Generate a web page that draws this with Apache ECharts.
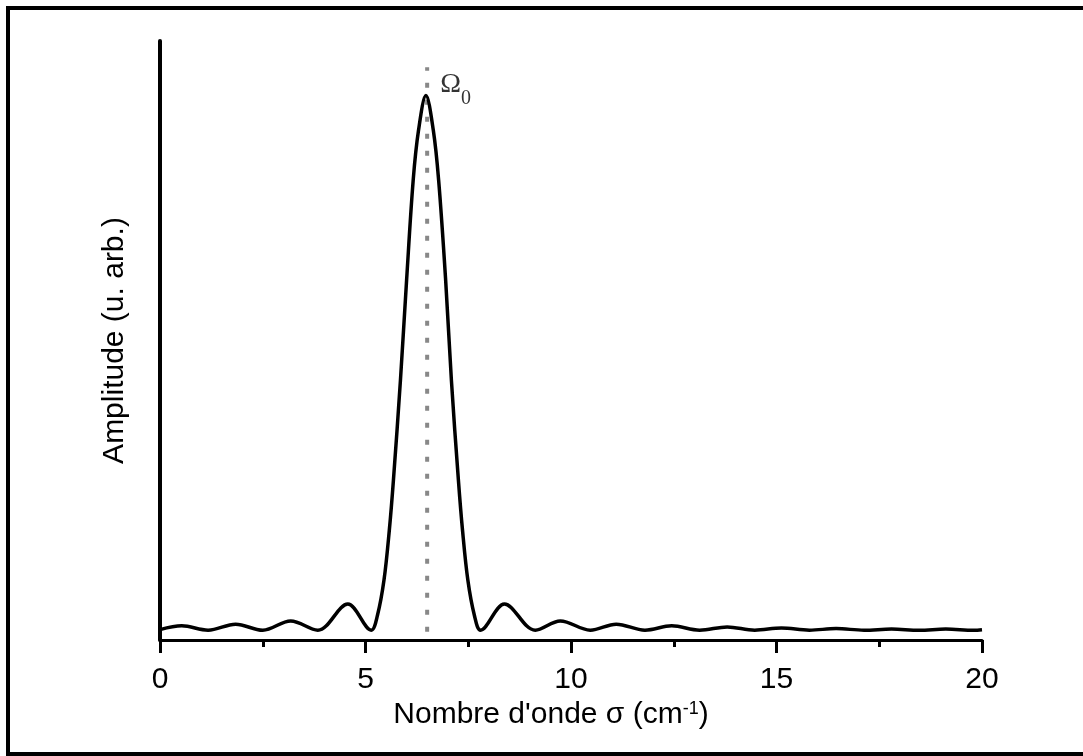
<!DOCTYPE html>
<html>
<head>
<meta charset="utf-8">
<script src="https://cdn.jsdelivr.net/npm/echarts@6/dist/echarts.min.js"></script>
<style>
  html, body { margin: 0; padding: 0; background: #fff; }
  #chart { width: 1083px; height: 756px; }
</style>
</head>
<body>
<div id="chart"></div>
<script>
// 波数 σ (cm-1)
const sigma = [0, 0.53, 1.17, 1.84, 2.50, 3.18, 3.84, 4.57, 5.14, 5.29, 5.45, 5.58, 5.68, 5.85, 6.00, 6.16, 6.29, 6.47,
  6.65, 6.78, 6.95, 7.09, 7.26, 7.36, 7.49, 7.65, 7.80, 8.38, 9.13, 9.74, 10.47, 11.10, 11.80, 12.45, 13.13, 13.80,
  14.47, 15.12, 15.80, 16.45, 17.13, 17.80, 18.47, 19.12, 19.80, 20];
// 振幅 (u. arb.)
const amplitude = [0.019, 0.026, 0.018, 0.029, 0.018, 0.035, 0.018, 0.066, 0.018, 0.045, 0.110, 0.202, 0.294, 0.477, 0.661, 0.844, 0.936, 1.0,
  0.936, 0.844, 0.661, 0.477, 0.294, 0.202, 0.110, 0.045, 0.018, 0.066, 0.018, 0.035, 0.018, 0.029, 0.018, 0.026, 0.018, 0.024,
  0.018, 0.022, 0.018, 0.021, 0.018, 0.020, 0.018, 0.020, 0.018, 0.019];
// Ω0 参考线
const omega0 = 6.5;
const omegaLine = [0.015, 1.052];
// x 轴刻度
const xTicks = [0, 5, 10, 15, 20];

const chart = echarts.init(document.getElementById('chart'));
const font = 'Liberation Sans, Arial, sans-serif';
const serif = 'Liberation Serif, Times New Roman, serif';

chart.setOption({
  animation: false,
  backgroundColor: '#fff',
  grid: { left: 160, right: 101, top: 41, bottom: 116 },
  xAxis: {
    type: 'value',
    min: xTicks[0],
    max: xTicks[xTicks.length - 1],
    interval: xTicks[1] - xTicks[0],
    axisLine: { lineStyle: { color: '#000', width: 3 } },
    axisTick: { length: 13, lineStyle: { color: '#000', width: 3 } },
    minorTick: { show: true, splitNumber: 2, length: 7, lineStyle: { color: '#000', width: 3 } },
    splitLine: { show: false },
    axisLabel: { color: '#000', fontSize: 30, fontFamily: font, margin: 25 },
    name: '{n|Nombre d\'onde σ (cm}{s|-1}{n|)}',
    nameLocation: 'middle',
    nameGap: 56,
    nameTextStyle: {
      padding: [0, 40, 0, 0],
      rich: {
        n: { fontSize: 30, fontFamily: font, color: '#000', lineHeight: 30 },
        s: { fontSize: 18, fontFamily: font, color: '#000', lineHeight: 18, verticalAlign: 'top' }
      }
    }
  },
  yAxis: {
    type: 'value',
    min: 0,
    max: 1.1,
    axisLine: { show: true, lineStyle: { color: '#000', width: 4 } },
    axisTick: { show: false },
    axisLabel: { show: false },
    splitLine: { show: false },
    name: 'Amplitude (u. arb.)',
    nameLocation: 'middle',
    nameGap: 30,
    nameTextStyle: { fontSize: 30, fontFamily: font, color: '#000' }
  },
  graphic: [{
    type: 'rect',
    shape: { x: 8, y: 8, width: 1100, height: 746 },
    style: { fill: 'none', stroke: '#000', lineWidth: 4 },
    silent: true
  }],
  series: [
    {
      type: 'line',
      data: omegaLine.map(v => [omega0, v]),
      symbol: 'none',
      lineStyle: { color: '#888', width: 4, type: [5, 12] },
      z: 1
    },
    {
      type: 'line',
      data: sigma.map((s, i) => [s, amplitude[i]]),
      symbol: 'none',
      smooth: 0.35,
      lineStyle: { color: '#000', width: 3.5 },
      z: 2
    },
    {
      type: 'scatter',
      data: [[omega0, omegaLine[1]]],
      symbol: 'circle',
      symbolSize: 0,
      itemStyle: { color: '#000' },
      label: {
        show: true,
        position: [13, 4],
        color: '#000',
        fontSize: 28,
        fontFamily: serif,
        formatter: '{o|Ω}{s|0}',
        rich: {
          o: { fontSize: 28, fontFamily: serif, color: '#000', lineHeight: 28, verticalAlign: 'top' },
          s: { fontSize: 20, fontFamily: serif, color: '#000', lineHeight: 56 }
        }
      },
      z: 3
    }
  ]
});
</script>
</body>
</html>
